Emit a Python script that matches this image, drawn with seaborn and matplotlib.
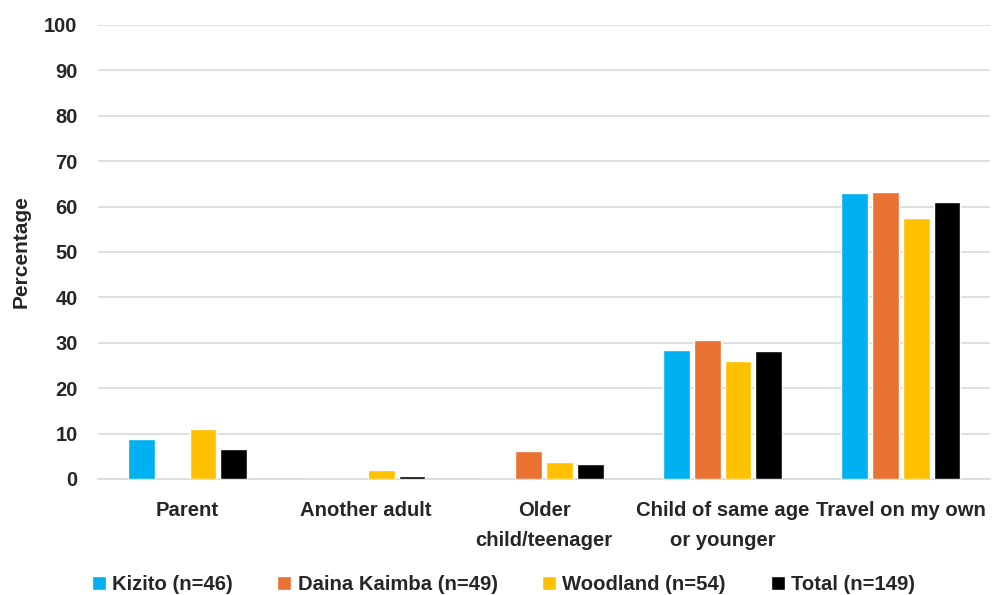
import matplotlib
matplotlib.use("Agg")
import matplotlib.pyplot as plt
import seaborn as sns
import pandas as pd

categories = ["Parent", "Another adult", "Older\nchild/teenager",
              "Child of same age\nor younger", "Travel on my own"]
groups = ["Kizito (n=46)", "Daina Kaimba (n=49)", "Woodland (n=54)", "Total (n=149)"]
kizito = [8.7, 0.0, 0.0, 28.3, 63.0]
daina_kaimba = [0.0, 0.0, 6.1, 30.6, 63.3]
woodland = [11.1, 1.9, 3.7, 25.9, 57.4]
total = [6.7, 0.7, 3.4, 28.2, 61.1]
y_ticks = [0, 10, 20, 30, 40, 50, 60, 70, 80, 90, 100]

colors = ["#00B0F0", "#E97132", "#FFC000", "#000000"]

rows = []
for g, vals in zip(groups, [kizito, daina_kaimba, woodland, total]):
    for c, v in zip(categories, vals):
        rows.append({"Category": c, "Group": g, "Percentage": v})
df = pd.DataFrame(rows)

sns.set_theme(style="white")
plt.rcParams["font.family"] = ["Liberation Sans", "DejaVu Sans"]

fig, ax = plt.subplots(figsize=(9.94, 5.95), dpi=100)
fig.subplots_adjust(left=0.099, right=0.996, top=0.958, bottom=0.195)

sns.barplot(data=df, x="Category", y="Percentage", hue="Group",
            order=categories, hue_order=groups, palette=colors,
            saturation=1, width=0.69, gap=0.13, ax=ax, legend=True, zorder=3)

ax.set_ylim(0, 100)
ax.set_yticks(y_ticks)
ax.set_yticklabels([str(t) for t in y_ticks], fontsize=14.5, fontweight="bold")
ax.set_xlim(-0.5, len(categories) - 0.5)
ax.tick_params(axis="x", labelsize=14.6, length=0, pad=16)
ax.tick_params(axis="y", length=0, pad=15)
for lbl in ax.get_xticklabels():
    lbl.set_fontweight("bold")
    lbl.set_linespacing(1.75)
ax.set_xlabel("")
ax.set_ylabel("Percentage", fontsize=15, fontweight="bold")
ax.yaxis.set_label_coords(-0.076, 0.5)

ax.yaxis.grid(True, color="#D9D9D9", linewidth=1.2, zorder=0)
for s in ["top", "right", "left"]:
    ax.spines[s].set_visible(False)
ax.spines["bottom"].set_color("#D9D9D9")
ax.spines["bottom"].set_linewidth(1.2)

ax.legend(loc="lower center", bbox_to_anchor=(0.454, -0.293), ncol=4,
          frameon=False, prop={"size": 14.6, "weight": "bold"},
          handlelength=0.7, handleheight=0.7, handletextpad=0.3,
          columnspacing=2.2)

fig.savefig("out.png", dpi=100)
